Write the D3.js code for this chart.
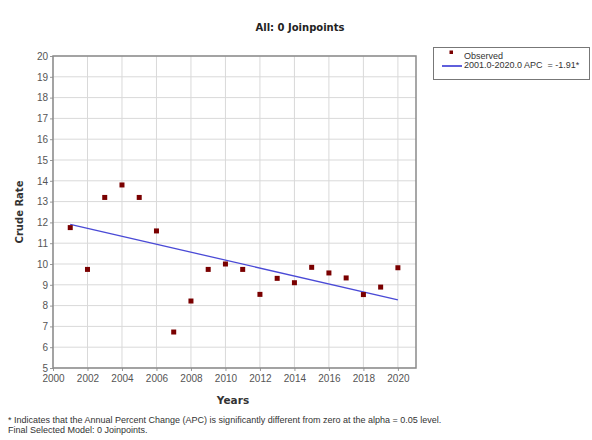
<!DOCTYPE html>
<html>
<head>
<meta charset="utf-8">
<script src="https://cdn.jsdelivr.net/npm/d3@7"></script>
<style>
  html, body { margin: 0; padding: 0; background: #fff; }
  svg { display: block; }
  text { white-space: pre; }
</style>
</head>
<body>
<svg id="chart" width="592" height="440"></svg>
<script>
// Observed crude rates by year
const years = [2001, 2002, 2003, 2004, 2005, 2006, 2007, 2008, 2009, 2010,
               2011, 2012, 2013, 2014, 2015, 2016, 2017, 2018, 2019, 2020];
const observed = [11.75, 9.74, 13.2, 13.8, 13.2, 11.59, 6.73, 8.22, 9.74, 10.0,
                  9.74, 8.54, 9.31, 9.1, 9.84, 9.57, 9.33, 8.53, 8.89, 9.82];

// Modeled trend segment (0 joinpoints)
const fitYears = [2001, 2020];
const fitValues = [11.91, 8.27];

const xTicks = [2000, 2002, 2004, 2006, 2008, 2010, 2012, 2014, 2016, 2018, 2020];
const yTicks = [5, 6, 7, 8, 9, 10, 11, 12, 13, 14, 15, 16, 17, 18, 19, 20];

const titleText = "All: 0 Joinpoints";
const legendLabels = ["Observed", "2001.0-2020.0 APC  = -1.91*"];
const footnotes = [
  "* Indicates that the Annual Percent Change (APC) is significantly different from zero at the alpha = 0.05 level.",
  "Final Selected Model: 0 Joinpoints."
];

const svg = d3.select("#chart");
const plot = { left: 53, top: 56, right: 416, bottom: 368 };

const x = d3.scaleLinear().domain([2000, 2021.05]).range([plot.left, plot.right]);
const y = d3.scaleLinear().domain([5, 20]).range([plot.bottom, plot.top]);

const tickFont = "'Liberation Sans', Arial, sans-serif";
const boldFont = "'DejaVu Sans', Verdana, sans-serif";

// Grid
const grid = svg.append("g");
grid.selectAll("line.v").data(xTicks).join("line")
  .attr("x1", d => x(d)).attr("x2", d => x(d))
  .attr("y1", plot.top).attr("y2", plot.bottom)
  .attr("stroke", "#d9d9d9").attr("stroke-width", 1);
grid.selectAll("line.h").data(yTicks).join("line")
  .attr("x1", plot.left).attr("x2", plot.right)
  .attr("y1", d => y(d)).attr("y2", d => y(d))
  .attr("stroke", "#d9d9d9").attr("stroke-width", 1);

// Axes
const xAxis = svg.append("g")
  .attr("transform", `translate(0,${plot.bottom})`)
  .call(d3.axisBottom(x).tickValues(xTicks).tickFormat(d3.format("d")).tickSize(3).tickPadding(4));
const yAxis = svg.append("g")
  .attr("transform", `translate(${plot.left},0)`)
  .call(d3.axisLeft(y).tickValues(yTicks).tickFormat(d3.format("d")).tickSize(3).tickPadding(2));
[xAxis, yAxis].forEach(a => {
  a.select(".domain").remove();
  a.selectAll(".tick line").attr("stroke", "#999");
  a.selectAll(".tick text").attr("fill", "#555").style("font-family", tickFont).style("font-size", "10px");
});

// Plot frame
svg.append("rect")
  .attr("x", plot.left).attr("y", plot.top)
  .attr("width", plot.right - plot.left).attr("height", plot.bottom - plot.top)
  .attr("fill", "none").attr("stroke", "#8a8a8a").attr("stroke-width", 1.5);

// Trend line
svg.append("path")
  .datum(fitYears.map((yr, i) => [yr, fitValues[i]]))
  .attr("d", d3.line().x(d => x(d[0])).y(d => y(d[1])))
  .attr("fill", "none").attr("stroke", "#4a4ad6").attr("stroke-width", 1.3);

// Observed points
svg.append("g").selectAll("rect").data(years.map((yr, i) => [yr, observed[i]])).join("rect")
  .attr("x", d => x(d[0]) - 2.5).attr("y", d => y(d[1]) - 2.5)
  .attr("width", 5).attr("height", 5)
  .attr("fill", "#7a0000");

// Title
svg.append("text").attr("x", 300).attr("y", 31).attr("text-anchor", "middle")
  .style("font-family", boldFont).style("font-weight", "bold").style("font-size", "10px")
  .attr("fill", "#222").text(titleText);

// Axis titles
svg.append("text").attr("x", 233).attr("y", 404).attr("text-anchor", "middle")
  .style("font-family", boldFont).style("font-weight", "bold").style("font-size", "10.5px")
  .attr("fill", "#333").text("Years");
svg.append("text").attr("transform", `translate(23,${(plot.top + plot.bottom) / 2}) rotate(-90)`)
  .attr("text-anchor", "middle")
  .style("font-family", boldFont).style("font-weight", "bold").style("font-size", "10px")
  .attr("fill", "#333").text("Crude Rate");

// Legend
const lg = svg.append("g");
lg.append("rect").attr("x", 433.5).attr("y", 47.5).attr("width", 156).attr("height", 32)
  .attr("fill", "#fff").attr("stroke", "#777").attr("stroke-width", 1);
lg.append("rect").attr("x", 449.5).attr("y", 50.5).attr("width", 3.5).attr("height", 3.5).attr("fill", "#7a0000");
lg.append("line").attr("x1", 442).attr("x2", 462).attr("y1", 66).attr("y2", 66)
  .attr("stroke", "#2a2ad0").attr("stroke-width", 1.5);
lg.selectAll("text").data(legendLabels).join("text")
  .attr("x", 464).attr("y", (d, i) => 59 + i * 9)
  .style("font-family", tickFont).style("font-size", "9px")
  .attr("fill", "#333").text(d => d);

// Footnotes
svg.append("g").selectAll("text").data(footnotes).join("text")
  .attr("x", 8).attr("y", (d, i) => 423 + i * 10)
  .style("font-family", tickFont).style("font-size", "9px")
  .attr("fill", "#333").text(d => d);
</script>
</body>
</html>
